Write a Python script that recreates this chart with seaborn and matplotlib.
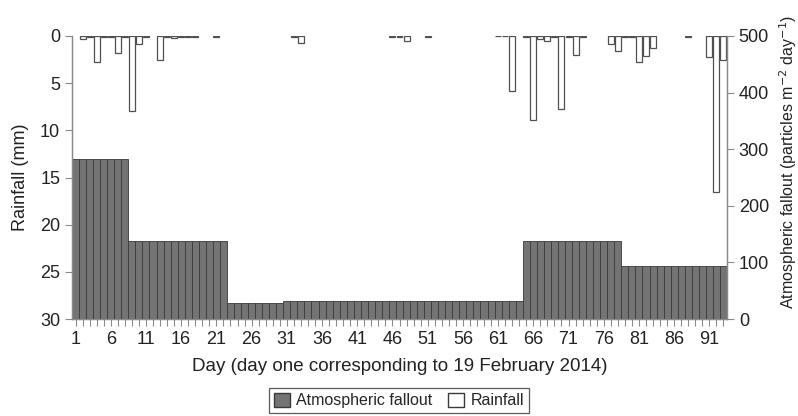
import numpy as np
import pandas as pd
import matplotlib
matplotlib.use("Agg")
import matplotlib.pyplot as plt
from matplotlib.patches import Patch
import seaborn as sns

# daily values, day 1 = 19 February 2014
days = list(range(1, 94))

# atmospheric fallout (particles m-2 day-1), constant over each sampling period
fallout_periods = [(1, 8, 282), (9, 22, 138), (23, 30, 29), (31, 64, 32),
                   (65, 78, 137), (79, 93, 94)]

# rainfall (mm), days not listed had no rain
rain_by_day = {
    2: 0.3, 3: 0.1, 4: 2.8, 5: 0.1, 6: 0.1, 7: 1.8, 8: 0.1, 9: 8.0, 10: 0.9,
    11: 0.1, 13: 2.5, 14: 0.1, 15: 0.25, 16: 0.1, 17: 0.15, 18: 0.1, 21: 0.1,
    32: 0.1, 33: 0.7, 46: 0.1, 47: 0.1, 48: 0.5, 51: 0.1, 61: 0.05, 62: 0.05,
    63: 5.8, 65: 0.1, 66: 8.9, 67: 0.3, 68: 0.5, 69: 0.1, 70: 7.7, 71: 0.1,
    72: 2.0, 73: 0.1, 77: 0.8, 78: 1.6, 79: 0.1, 80: 0.1, 81: 2.8, 82: 2.1,
    83: 1.3, 88: 0.1, 91: 2.2, 92: 16.5, 93: 2.5,
}

rain_ticks = [0, 5, 10, 15, 20, 25, 30]
fallout_ticks = [0, 100, 200, 300, 400, 500]
day_labels = [1, 6, 11, 16, 21, 26, 31, 36, 41, 46, 51, 56, 61, 66, 71, 76, 81, 86, 91]

fallout = []
for d in days:
    for start, end, val in fallout_periods:
        if start <= d <= end:
            fallout.append(val)
fallout_df = pd.DataFrame({"day": days, "fallout": fallout})
rain_df = pd.DataFrame({"day": list(rain_by_day.keys()), "rain": list(rain_by_day.values())})

sns.set_style("ticks")
plt.rcParams["font.family"] = ["Liberation Sans", "DejaVu Sans"]
text_col = "#222222"
spine_col = "#8a8a8a"

fig = plt.figure(figsize=(7.98, 4.16), dpi=100)
ax = fig.add_axes([72 / 798, 1 - 319 / 416, (727 - 72) / 798, (319 - 36) / 416])
ax2 = ax.twinx()

# rainfall hanging from the top (left axis, inverted)
sns.barplot(data=rain_df, x="day", y="rain", native_scale=True, ax=ax,
            color="white", edgecolor="#505050", linewidth=0.9, width=0.85,
            saturation=1, errorbar=None)
# atmospheric fallout (right axis)
sns.barplot(data=fallout_df, x="day", y="fallout", native_scale=True, ax=ax2,
            color="#747474", edgecolor="#3a3a3a", linewidth=0.6, width=1,
            saturation=1, errorbar=None)

ax.set_xlim(0.5, 93.5)
ax.set_ylim(30, 0)
ax2.set_ylim(0, 500)
ax.set_yticks(rain_ticks)
ax2.set_yticks(fallout_ticks)
ax.set_xticks(days)
ax.set_xticklabels([str(d) if d in day_labels else "" for d in days])

for a in (ax, ax2):
    a.spines["top"].set_visible(False)
    for s in ("left", "right", "bottom"):
        a.spines[s].set_color(spine_col)
        a.spines[s].set_linewidth(0.9)
    a.tick_params(colors=spine_col, labelcolor=text_col, labelsize=13,
                  length=5, width=0.8)
ax.tick_params(axis="x", length=5, pad=4)

ax.set_xlabel("Day (day one corresponding to 19 February 2014)", fontsize=13.5,
              color=text_col, labelpad=7)
ax.set_ylabel("Rainfall (mm)", fontsize=13, color=text_col, labelpad=8)
ax2.set_ylabel("Atmospheric fallout (particles m$^{-2}$ day$^{-1}$)", fontsize=11.5,
               color=text_col, labelpad=6)
ax2.yaxis.label.set_y(0.555)

handles = [Patch(facecolor="#747474", edgecolor="#3a3a3a", label="Atmospheric fallout"),
           Patch(facecolor="white", edgecolor="#3a3a3a", label="Rainfall")]
leg = fig.legend(handles=handles, loc="lower center", bbox_to_anchor=(0.5, -0.012),
                 ncol=2, frameon=True, fancybox=False, fontsize=11.5,
                 handlelength=1.0, handleheight=1.0, handletextpad=0.4,
                 columnspacing=1.0, borderpad=0.3)
leg.get_frame().set_edgecolor("#333333")
leg.get_frame().set_linewidth(0.9)

fig.savefig("out.png", dpi=100)
